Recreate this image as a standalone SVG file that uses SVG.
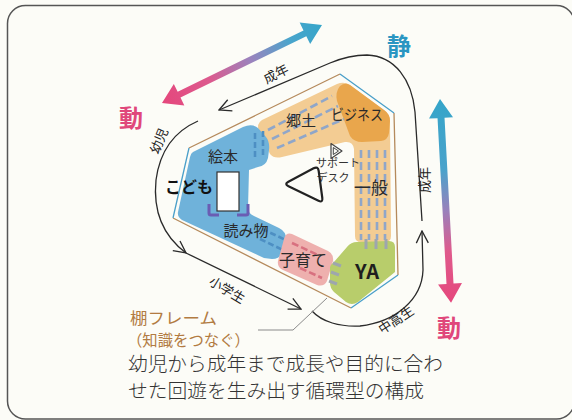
<svg xmlns="http://www.w3.org/2000/svg" width="572" height="420" viewBox="0 0 572 420">
<defs>
<style>
text{font-family:"Noto Sans CJK JP","Noto Sans CJK SC",sans-serif;}
.lbl{font-size:13px;fill:#222;text-anchor:middle;}
.zn{font-size:15px;fill:#2a2a2a;text-anchor:middle;}
.big{font-size:24px;font-weight:700;text-anchor:middle;}
.cap{font-size:19.5px;fill:#333;font-weight:300;}
.brn{font-size:15.5px;fill:#b27b42;}
.loop{fill:none;stroke:#2a2a2a;stroke-width:1.3;}
.dashO{fill:none;stroke:#8fa6c9;stroke-width:2.6;stroke-dasharray:8 4;}
.dashB{fill:none;stroke:#4d8fc3;stroke-width:2.6;stroke-dasharray:6 3;}
.dashP{fill:none;stroke:#d8707f;stroke-width:2.6;stroke-dasharray:7 3;}
.tab{fill:none;stroke:#9ea6ae;stroke-width:3;}
</style>
<linearGradient id="gTop" gradientUnits="userSpaceOnUse" x1="0" y1="0" x2="178" y2="0">
<stop offset="0" stop-color="#e5477c"/>
<stop offset="0.3" stop-color="#dc5a8e"/>
<stop offset="0.55" stop-color="#9c82bd"/>
<stop offset="0.8" stop-color="#4aa5cc"/>
<stop offset="1" stop-color="#35a5c9"/>
</linearGradient>
<linearGradient id="gRight" gradientUnits="userSpaceOnUse" x1="0" y1="0" x2="204" y2="0">
<stop offset="0" stop-color="#35a5c9"/>
<stop offset="0.35" stop-color="#4aa2cb"/>
<stop offset="0.55" stop-color="#9a80bb"/>
<stop offset="0.75" stop-color="#df5a8c"/>
<stop offset="1" stop-color="#e5477c"/>
</linearGradient>
<marker id="chev" markerUnits="userSpaceOnUse" viewBox="0 0 14 14" refX="13" refY="7" markerWidth="14" markerHeight="14" orient="auto">
<path d="M1,1 L13,7 L1,13" fill="none" stroke="#2a2a2a" stroke-width="1.3"/>
</marker>
</defs>

<rect x="0" y="0" width="572" height="420" fill="#fcfcf7"/>
<rect x="7.5" y="5.5" width="567" height="413.5" rx="18" fill="none" stroke="#555" stroke-width="1.5"/>

<g id="arrow-top">
<polygon transform="translate(162,103) rotate(-25.99)" points="0,0 19,-12 19,-3.2 159,-3.2 159,-12 178,0 159,12 159,3.2 19,3.2 19,12" fill="url(#gTop)"/>
</g>
<g id="arrow-right">
<polygon transform="translate(440,99) rotate(86.9)" points="0,0 19,-12 19,-3.5 185,-3.5 185,-12 204,0 185,12 185,3.5 19,3.5 19,12" fill="url(#gRight)"/>
</g>
<g id="label-sei"><text class="big" x="399" y="55" fill="#2a96c2">静</text></g>
<g id="label-dou-left"><text class="big" x="131" y="127" fill="#e0477b">動</text></g>
<g id="label-dou-right"><text class="big" x="449" y="337" fill="#e0477b">動</text></g>

<g id="zone-ippan">
<path d="M262,120 L337,84 Q344,81 350,85 L384,110 Q390,114 390,121 L391,236 Q391,242 385,242 L361,242 Q355,242 355,236 L354,149 Q353,141 345,142 L282,157 Q274,159 270,154 L259,131 Q256,124 262,120 Z" fill="#f3cc93"/>
<path d="M340,86 Q345,82 350,85 L384,110 Q390,114 390,121 L389,133 Q388,140 381,141 L362,142 Q354,142 350,136 L337,101 Q335,92 340,86 Z" fill="#e9a64c"/>
<path class="dashO" d="M268,130 L332,96 M272,139 L338,106 M277,148 L344,119"/>
<path class="dashO" d="M361,150 V240 M369,150 V240 M377,150 V240 M385,150 V240"/>
<text class="zn" x="301" y="126">郷土</text>
<text class="zn" x="357" y="120" textLength="52" lengthAdjust="spacingAndGlyphs">ビジネス</text>
<text class="zn" x="371" y="194" style="font-size:17px">一般</text>
</g>

<g id="zone-kodomo">
<path d="M193,152 L243,127 Q252,123 258,128 L266,137 Q270,142 269,150 L268,158 Q266,166 258,167 L249,170 L248,208 Q248,213 254,216 L279,228 Q287,232 286,241 L284,250 Q281,259 272,259 L264,258 L182,220 Q177,217 178,212 L190,157 Q191,153 193,152 Z" fill="#6fb2da"/>
<path class="dashB" d="M255,133 V160 M263,131 V158"/>
<path class="dashB" d="M262,229 L288,241 M260,239 L285,251"/>
<rect x="217" y="172" width="22" height="39" fill="#fff" stroke="#333" stroke-width="1.2"/>
<path d="M209,204 V213 Q209,215 211,215 H219 M237,215 H246 Q248,215 248,213 V204" fill="none" stroke="#6a5db3" stroke-width="3"/>
<text class="zn" x="223" y="162">絵本</text>
<text class="zn" x="189" y="193" style="font-size:16px;font-weight:700;fill:#111">こども</text>
<text class="zn" x="246" y="236">読み物</text>
</g>

<g id="zone-kosodate">
<path d="M292,234 L328,251 Q334,254 333,261 L327,281 Q324,287 317,285 L283,270 Q277,267 278,261 L284,239 Q286,232 292,234 Z" fill="#eeb0ae"/>
<path class="dashP" d="M292,243 L318,255 M300,268 L322,278"/>
<text class="zn" x="303" y="266" style="font-size:16px">子育て</text>
</g>

<g id="zone-ya">
<path d="M334,262 L347,247 Q351,242 357,242 L389,241 Q395,241 395,247 L395,272 L358,302 Q352,306 346,302 L334,292 Q330,288 330,283 L330,268 Q330,265 334,262 Z" fill="#b8cd6b"/>
<path class="tab" d="M366,239 V249 M376,239 V249 M386,239 V249"/>
<path class="tab" d="M333,263 L341,266 M331,272 L339,275 M329,281 L337,284"/>
<text x="367" y="279" style="font-size:20px;font-weight:700;fill:#1e1e1e;text-anchor:middle">YA</text>
</g>

<g id="floor">
<path d="M189,148 L340,74 M394,113 L398,275 M351,308 L173,218" fill="none" stroke="#b58a5c" stroke-width="1.3"/>
<path d="M340,74 L394,113 M398,275 L351,308 M173,218 L189,148" fill="none" stroke="#4a9fc9" stroke-width="1.3"/>
</g>

<g id="desk">
<path d="M331,143.5 L342,151 L331,158.5 Z" fill="none" stroke="#444" stroke-width="1.2" stroke-linejoin="round"/>
<path d="M333.3,147.5 L338.5,151 L333.3,154.5 Z" fill="none" stroke="#444" stroke-width="1" stroke-linejoin="round"/>
<text x="338" y="167" style="font-size:11px;fill:#333;text-anchor:middle">サポート</text>
<text x="333" y="182" style="font-size:11px;fill:#333;text-anchor:middle">デスク</text>
<path d="M288.4,181.7 L313.6,168.3 Q318,166 318.7,171 L322.3,198 Q323,203 318.5,200.8 L288.5,186.2 Q284,184 288.4,181.7 Z" fill="none" stroke="#222" stroke-width="2.2" stroke-linejoin="round"/>
</g>

<g id="connectors">
<path class="loop" d="M198,121 C175,131 160,150 156,180 C153,210 162,235 186,253" marker-end="url(#chev)"/>
<path class="loop" d="M186,253 L301,309" marker-end="url(#chev)"/>
<path class="loop" d="M312,311 C322,322 340,327 360,326 C395,322 422,300 423,270 L422,231" marker-end="url(#chev)"/>
<path class="loop" d="M422,221 L415,112 C412,80 395,56 367,55 C353,55 342,58 330,63 L219,110" marker-end="url(#chev)"/>
<path d="M258,330 H293 L327,298" fill="none" stroke="#8a8a8a" stroke-width="1"/>
</g>

<g id="loop-labels">
<text class="lbl" transform="translate(276,74) rotate(-27)" y="4.6">成年</text>
<text class="lbl" transform="translate(159,141) rotate(-67)" y="4.6">幼児</text>
<text class="lbl" transform="translate(227,290) rotate(31)" y="4.6">小学生</text>
<text class="lbl" transform="translate(396,320) rotate(-33)" y="4.6">中高生</text>
<text class="lbl" transform="translate(424,180) rotate(-90)" y="4.6">成年</text>
</g>

<g id="shelf-label">
<text class="brn" x="130" y="324" textLength="87" lengthAdjust="spacingAndGlyphs">棚フレーム</text>
<text class="brn" x="127" y="346" textLength="123" lengthAdjust="spacingAndGlyphs">（知識をつなぐ）</text>
</g>

<g id="caption">
<text class="cap" x="128" y="371" textLength="315" lengthAdjust="spacingAndGlyphs">幼児から成年まで成長や目的に合わ</text>
<text class="cap" x="128" y="398" textLength="296" lengthAdjust="spacingAndGlyphs">せた回遊を生み出す循環型の構成</text>
</g>
</svg>
